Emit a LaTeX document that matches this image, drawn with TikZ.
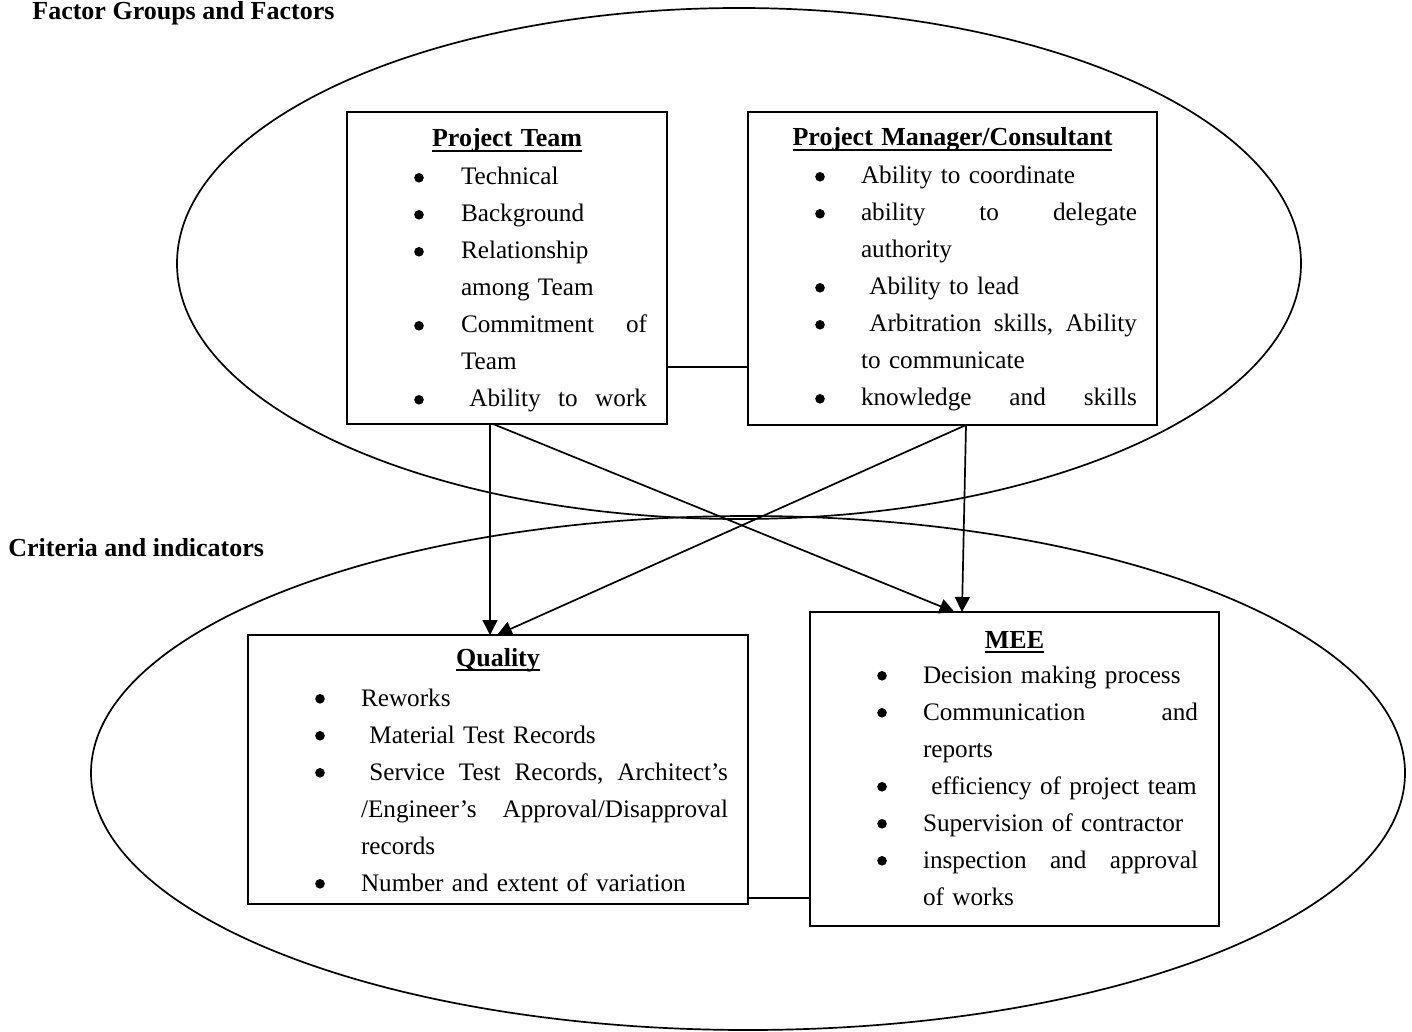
\documentclass[tikz,border=0pt]{standalone}
\usepackage{fontspec}
\setmainfont{Liberation Serif}
\usetikzlibrary{arrows.meta,calc,shapes.geometric}

% indent of the item text and right margin inside a box
\newlength\txtindent
\newlength\txtright
% heavy underline sitting close to the baseline
\newcommand\heavyul[1]{\setbox0\hbox{#1}\rlap{\rule[-2.7pt]{\wd0}{1.1pt}}\box0}
% centred, bold, underlined box title; #1 = baseline below the box top, #2 = extra gap after it
\newcommand\boxhead[3]{{\noindent\centering\rule{0pt}{#1}\fontsize{13pt}{18.5pt}\selectfont\textbf{\heavyul{#3}}\par}\vspace{#2}}
% round bullet mark
\newcommand\bulletmark{\raisebox{1.2pt}{\tikz\fill (0,0) circle (2.4pt);}}
% one bulleted entry; the bullet sits 36pt from the box edge
\newcommand\itm[1]{{\leftskip=\txtindent\rightskip=\txtright\parfillskip=0pt plus 1fil
  \noindent\llap{\makebox[\dimexpr2\txtindent-72pt\relax]{\bulletmark}}#1\par}}

\begin{document}
\begin{tikzpicture}[x=0.5pt,y=-0.5pt,
  frame/.style={draw, line width=1pt, inner sep=0pt, outer sep=0pt, anchor=north west},
  body/.style={anchor=north west, inner sep=0pt, outer sep=0pt,
    font=\fontsize{12.6pt}{18.5pt}\selectfont},
  link/.style={line width=0.85pt},
  flow/.style={line width=0.85pt, -{Triangle[length=7.5pt,width=7.5pt]}},
  group/.style={ellipse, draw, line width=0.85pt, inner sep=0pt, outer sep=0pt},
  heading/.style={anchor=base west, inner sep=0pt, font=\bfseries\fontsize{13pt}{15pt}\selectfont}]

\useasboundingbox (0,0) rectangle (1412,1032);

% the two groups
\node[group, minimum width=562pt, minimum height=255.5pt] (factors) at (739,263.5) {};
\node[group, minimum width=657pt, minimum height=257pt] (criteria) at (748,773) {};

\node[heading] (factorsHead) at (32,20) {Factor Groups and Factors};
\node[heading] (criteriaHead) at (8,556) {Criteria and indicators};

% factor boxes
\node[frame, minimum width=160pt, minimum height=156pt] (team) at (347,112) {};
\node[body, text width=160pt] (teamText) at (team.north west) {%
  \txtindent=57pt \txtright=10pt
  \boxhead{17.5pt}{0.5pt}{Project Team}
  \itm{Technical}
  \itm{Background}
  \itm{Relationship\\among Team}
  \itm{Commitment\hfill of\\Team}
  \itm{\ Ability\hfill to\hfill work}};

\node[frame, minimum width=204.5pt, minimum height=156.5pt] (manager) at (748,112) {};
\node[body, text width=204.5pt] (managerText) at (manager.north west) {%
  \txtindent=56.5pt \txtright=10pt
  \boxhead{17pt}{0.5pt}{Project Manager/Consultant}
  \itm{Ability to coordinate}
  \itm{ability\hfill to\hfill delegate\\authority}
  \itm{\ Ability to lead}
  \itm{\ Arbitration\hfill skills,\hfill Ability\\to communicate}
  \itm{knowledge\hfill and\hfill skills}};

% criteria boxes
\node[frame, minimum width=250pt, minimum height=134.5pt] (quality) at (248,635) {};
\node[body, text width=250pt] (qualityText) at (quality.north west) {%
  \txtindent=56.5pt \txtright=10pt
  \boxhead{15.5pt}{1.5pt}{Quality}
  \itm{Reworks}
  \itm{\ Material Test Records}
  \itm{\ Service\hfill Test\hfill Records,\hfill Architect’s\\/Engineer’s\hfill Approval/Disapproval\\records}
  \itm{Number and extent of variation}};

\node[frame, minimum width=204.5pt, minimum height=157pt] (mee) at (810,612) {};
\node[body, text width=204.5pt] (meeText) at (mee.north west) {%
  \txtindent=56.5pt \txtright=10.5pt
  \boxhead{18pt}{-1pt}{MEE}
  \itm{Decision making process}
  \itm{Communication\hfill and\\reports}
  \itm{\ efficiency of project team}
  \itm{Supervision of contractor}
  \itm{inspection\hfill and\hfill approval\\of works}};

% plain links between the boxes of each group
\coordinate (teamLink) at ($(team.south east)+(0,-57)$);
\draw[link] (teamLink) -- (teamLink -| manager.west);
\coordinate (qualityLink) at ($(quality.south east)+(0,-6)$);
\draw[link] (qualityLink) -- (qualityLink -| mee.west);

% arrows from factors to criteria
\draw[flow] ($(team.south)+(-17,0)$) -- ($(quality.north)+(-8,0)$);
\draw[flow] ($(team.south)+(-14,0)$) -- ($(mee.north)+(-60,0)$);
\draw[flow] ($(manager.south)+(13.5,0)$) -- ($(quality.north)+(-1,0)$);
\draw[flow] ($(manager.south)+(13.5,0)$) -- ($(mee.north)+(-52.5,0)$);
\end{tikzpicture}
\end{document}
